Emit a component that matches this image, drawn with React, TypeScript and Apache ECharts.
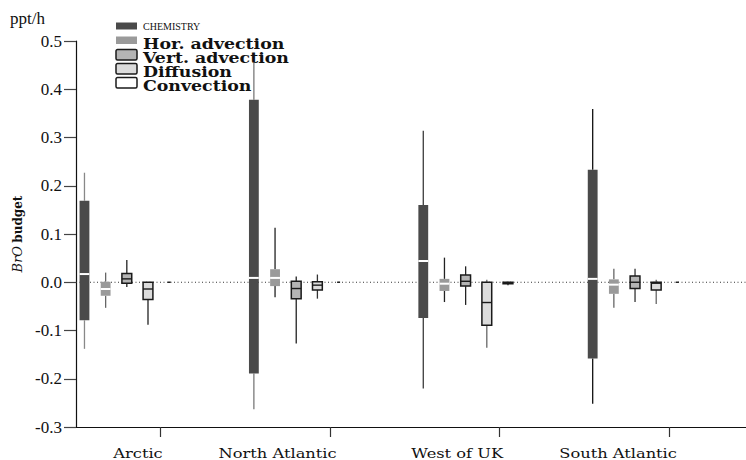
import { useEffect, useRef } from 'react';
import * as echarts from 'echarts';

// Regions along the x axis and the processes of the BrO budget
const regions = ['Arctic', 'North Atlantic', 'West of UK', 'South Atlantic'];
const processes = ['CHEMISTRY', 'Hor. advection', 'Vert. advection', 'Diffusion', 'Convection'];

// Box statistics per region: [min, q1, median, q3, max] in ppt/h
const chemistry = [
  [-0.138, -0.079, 0.017, 0.169, 0.227],
  [-0.263, -0.189, 0.009, 0.378, 0.456],
  [-0.22, -0.074, 0.044, 0.16, 0.314],
  [-0.252, -0.158, 0.007, 0.233, 0.359],
];
const horAdvection = [
  [-0.053, -0.028, -0.014, 0.001, 0.02],
  [-0.031, -0.008, 0.009, 0.027, 0.113],
  [-0.041, -0.018, -0.003, 0.007, 0.051],
  [-0.053, -0.024, -0.005, 0.006, 0.028],
];
const vertAdvection = [
  [-0.01, -0.002, 0.007, 0.018, 0.046],
  [-0.127, -0.034, -0.013, 0.002, 0.012],
  [-0.047, -0.008, 0.002, 0.015, 0.033],
  [-0.041, -0.013, 0.0, 0.013, 0.028],
];
const diffusion = [
  [-0.088, -0.036, -0.014, 0.0, 0.0],
  [-0.034, -0.016, -0.006, 0.001, 0.016],
  [-0.136, -0.089, -0.042, 0.0, 0.005],
  [-0.045, -0.016, -0.002, 0.0, 0.005],
];
const convection = [
  [0, 0, 0, 0, 0],
  [0, 0, 0, 0, 0],
  [-0.006, -0.003, -0.001, 0.0, 0.001],
  [0, 0, 0, 0, 0],
];
const budgets = [chemistry, horAdvection, vertAdvection, diffusion, convection];

// Y axis range and tick step
const Y_MIN = -0.3;
const Y_MAX = 0.5;
const Y_STEP = 0.1;

// X layout: one unit per region; boxes sit in slots inside each unit
const X_MAX = 3.955;
const SLOT0 = 0.05;
const SLOT_STEP = 0.125;
const BOX_W = 0.058;
const X_TICKS = [0.5, 1.5, 2.5, 3.5];
const LABEL_AT = [0.366, 1.19, 2.25, 3.2];

const SERIF = "'Liberation Serif', 'Times New Roman', serif";
const DSERIF = "'DejaVu Serif', serif";

const boxStyles = [
  { fill: '#4a4a4a', stroke: 'none', median: '#ffffff', medianW: 2, whisker: ['#888888', '#7a7a7a', '#3c3c3c', '#111111'] },
  { fill: '#9a9a9a', stroke: 'none', median: '#ffffff', medianW: 2, whisker: ['#666666', '#222222', '#222222', '#666666'] },
  { fill: '#b4b4b4', stroke: '#1a1a1a', median: '#1a1a1a', medianW: 1.4, whisker: ['#222222', '#222222', '#222222', '#333333'] },
  { fill: '#dcdcdc', stroke: '#1a1a1a', median: '#1a1a1a', medianW: 1.4, whisker: ['#222222', '#333333', '#666666', '#666666'] },
  { fill: '#ffffff', stroke: '#1a1a1a', median: '#1a1a1a', medianW: 1.4, whisker: ['#222222', '#222222', '#222222', '#222222'] },
];

const makeRenderItem = (k: number) => (params: any, api: any) => {
  const st = boxStyles[k];
  const g = api.value(0);
  const xv = g + SLOT0 + k * SLOT_STEP;
  const pMin = api.coord([xv, api.value(1)]);
  const pQ1 = api.coord([xv, api.value(2)]);
  const pMed = api.coord([xv, api.value(3)]);
  const pQ3 = api.coord([xv, api.value(4)]);
  const pMax = api.coord([xv, api.value(5)]);
  const w = api.size([BOX_W, 0])[0];
  const cx = pMed[0];
  const wc = st.whisker[g];
  const children: any[] = [];
  const flat = Math.abs(pMax[1] - pMin[1]) < 0.5;
  if (flat) {
    children.push({
      type: 'line',
      shape: { x1: cx - 1.5, y1: pMed[1], x2: cx + 1.5, y2: pMed[1] },
      style: { stroke: '#222', lineWidth: 1.5 },
    });
    return { type: 'group', children };
  }
  if (pMax[1] < pQ3[1] - 0.3) {
    children.push({
      type: 'line',
      shape: { x1: cx, y1: pQ3[1], x2: cx, y2: pMax[1] },
      style: { stroke: wc, lineWidth: 1.3 },
    });
  }
  if (pMin[1] > pQ1[1] + 0.3) {
    children.push({
      type: 'line',
      shape: { x1: cx, y1: pQ1[1], x2: cx, y2: pMin[1] },
      style: { stroke: wc, lineWidth: 1.3 },
    });
  }
  children.push({
    type: 'rect',
    shape: { x: cx - w / 2, y: pQ3[1], width: w, height: Math.max(pQ1[1] - pQ3[1], 0.5) },
    style: st.stroke === 'none'
      ? { fill: st.fill, stroke: null }
      : { fill: st.fill, stroke: st.stroke, lineWidth: 1.5 },
  });
  children.push({
    type: 'line',
    shape: { x1: cx - w / 2, y1: pMed[1], x2: cx + w / 2, y2: pMed[1] },
    style: { stroke: st.median, lineWidth: st.medianW },
  });
  return { type: 'group', children };
};

export default function App() {
  const ref = useRef<HTMLDivElement>(null);

  useEffect(() => {
    if (!ref.current) return;
    const chart = echarts.init(ref.current, null, { renderer: 'svg' });

    const series: any[] = [
      {
        type: 'line',
        name: 'zero',
        data: [[0, 0], [X_MAX, 0]],
        symbol: 'none',
        silent: true,
        z: 1,
        lineStyle: { color: '#333', width: 1, type: [1, 2.5] },
      },
      ...budgets.map((rows, k) => ({
        type: 'custom',
        name: processes[k],
        z: 2,
        renderItem: makeRenderItem(k),
        encode: { x: 0, y: [1, 2, 3, 4, 5] },
        data: rows.map((r, i) => [i, ...r]),
      })),
    ];

    chart.setOption({
      animation: false,
      backgroundColor: '#ffffff',
      grid: { left: 76, right: 0, top: 41, bottom: 33, containLabel: false },
      xAxis: {
        type: 'value',
        min: 0,
        max: X_MAX,
        axisLine: { show: true, onZero: false, lineStyle: { color: '#111', width: 1.2 } },
        axisTick: { show: true, customValues: X_TICKS, length: 10, lineStyle: { color: '#333', width: 1.2 } },
        axisLabel: { show: false },
        splitLine: { show: false },
      },
      yAxis: {
        type: 'value',
        min: Y_MIN,
        max: Y_MAX,
        interval: Y_STEP,
        name: '{i|BrO} {b|budget}',
        nameLocation: 'middle',
        nameRotate: 90,
        nameGap: 52,
        nameTextStyle: {
          rich: {
            i: { fontFamily: DSERIF, fontStyle: 'italic', fontSize: 13, color: '#111' },
            b: { fontFamily: DSERIF, fontWeight: 'bold', fontSize: 12, color: '#111' },
          },
        },
        axisLine: { show: true, onZero: false, lineStyle: { color: '#111', width: 1.2 } },
        axisTick: { show: true, inside: false, length: 12, lineStyle: { color: '#444', width: 1.2 } },
        axisLabel: {
          margin: 14,
          fontFamily: SERIF,
          fontSize: 17,
          color: '#111',
          formatter: (v: number) => v.toFixed(1),
        },
        splitLine: { show: false },
      },
      series,
    });

    // Legend swatches and region names
    const swatchY = [22.5, 36.5, 49.5, 63.5, 77.5];
    const swatchH = [7, 7.5, 10.5, 10.5, 10.5];
    const textY = [26, 44, 58, 72, 86.5];
    const graphic: any[] = [];
    processes.forEach((name, k) => {
      const st = boxStyles[k];
      graphic.push({
        type: 'rect',
        x: 116,
        y: swatchY[k],
        shape: { width: 21, height: swatchH[k], r: st.stroke === 'none' ? 0 : 1.5 },
        style: st.stroke === 'none'
          ? { fill: st.fill }
          : { fill: st.fill, stroke: st.stroke, lineWidth: 1.5 },
      });
      graphic.push({
        type: 'text',
        x: 143,
        y: textY[k],
        scaleX: k === 0 ? 1 : 1.24,
        style: {
          text: name,
          fill: '#111',
          font: k === 0 ? `10px ${SERIF}` : `bold 14px ${DSERIF}`,
          textAlign: 'left',
          textVerticalAlign: 'middle',
        },
      });
    });
    regions.forEach((name, i) => {
      const px = chart.convertToPixel({ xAxisIndex: 0 }, LABEL_AT[i]) as number;
      graphic.push({
        type: 'text',
        x: px,
        y: 453,
        scaleX: 1.25,
        style: {
          text: name,
          fill: '#111',
          font: `13px ${DSERIF}`,
          textAlign: 'center',
          textVerticalAlign: 'middle',
        },
      });
    });
    graphic.push({
      type: 'text',
      x: 10,
      y: 18,
      style: {
        text: 'ppt/h',
        fill: '#111',
        font: `17px ${SERIF}`,
        textAlign: 'left',
        textVerticalAlign: 'middle',
      },
    });
    chart.setOption({ graphic });

    return () => chart.dispose();
  }, []);

  return <div ref={ref} style={{ width: 746, height: 460, position: 'absolute', left: 0, top: 0 }} />;
}
